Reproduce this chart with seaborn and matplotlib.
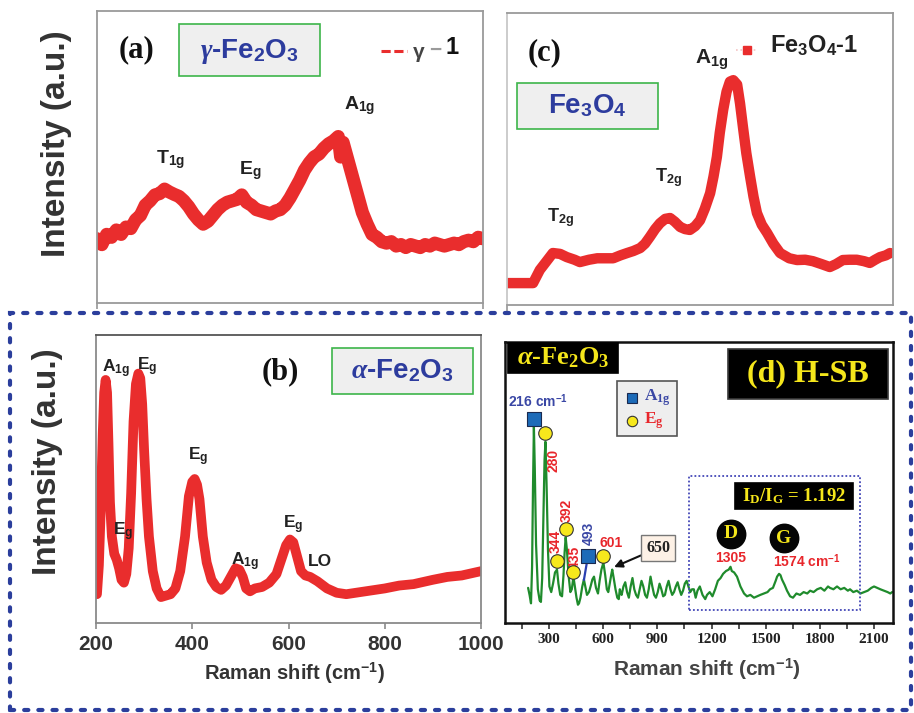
import matplotlib
matplotlib.use("Agg")
import matplotlib.pyplot as plt
from matplotlib.patches import Rectangle
from matplotlib.lines import Line2D
from matplotlib.ticker import FixedLocator, NullFormatter
import seaborn as sns

# ---------------- data ----------------
# (a) gamma-Fe2O3 Raman spectrum
gamma_shift = [200, 210, 220, 230, 240, 250, 260, 270, 280, 290, 300, 310, 320, 330, 340,
               350, 360, 370, 380, 390, 400, 410, 420, 430, 440, 450, 460, 470, 480, 490,
               500, 510, 520, 530, 540, 550, 560, 570, 580, 590, 600, 610, 620, 630, 640,
               650, 660, 670, 680, 690, 700, 705, 710, 720, 730, 740, 750, 760, 770, 780,
               790, 800, 810, 820, 830, 840, 850, 860, 870, 880, 890, 900, 910, 920, 930,
               940, 950, 960, 970, 980, 990, 1000]
gamma_int = [0.22, 0.20, 0.235, 0.225, 0.25, 0.235, 0.26, 0.255, 0.285, 0.30, 0.335, 0.35,
             0.37, 0.375, 0.39, 0.38, 0.372, 0.365, 0.35, 0.33, 0.305, 0.285, 0.27, 0.28,
             0.30, 0.32, 0.335, 0.345, 0.35, 0.355, 0.37, 0.345, 0.335, 0.32, 0.315, 0.31,
             0.305, 0.315, 0.32, 0.335, 0.36, 0.39, 0.42, 0.455, 0.48, 0.50, 0.51, 0.53,
             0.545, 0.555, 0.57, 0.50, 0.55, 0.49, 0.43, 0.37, 0.31, 0.27, 0.235, 0.225,
             0.21, 0.205, 0.21, 0.195, 0.20, 0.19, 0.20, 0.195, 0.19, 0.20, 0.195, 0.205,
             0.20, 0.195, 0.20, 0.205, 0.20, 0.21, 0.215, 0.21, 0.225, 0.22]

# (b) alpha-Fe2O3 Raman spectrum
hem_shift = [202, 206, 210, 214, 217, 220, 223, 226, 229, 233, 238, 243, 248, 253, 258,
             263, 268, 273, 278, 283, 288, 292, 296, 300, 305, 310, 318, 326, 335, 345,
             355, 365, 375, 385, 393, 400, 405, 410, 415, 422, 430, 440, 450, 460, 470,
             480, 490, 498, 505, 512, 520, 530, 545, 560, 575, 585, 595, 603, 610, 618,
             626, 635, 645, 660, 680, 700, 720, 740, 760, 780, 800, 830, 860, 900, 930,
             960, 1000]
hem_int = [0.10, 0.20, 0.40, 0.66, 0.80, 0.844, 0.80, 0.62, 0.42, 0.30, 0.24, 0.22, 0.19,
           0.15, 0.14, 0.17, 0.26, 0.45, 0.70, 0.83, 0.866, 0.85, 0.76, 0.60, 0.43, 0.30,
           0.18, 0.12, 0.09, 0.095, 0.10, 0.12, 0.18, 0.30, 0.44, 0.49, 0.50, 0.48, 0.43,
           0.30, 0.21, 0.15, 0.125, 0.115, 0.13, 0.16, 0.19, 0.185, 0.16, 0.12, 0.11,
           0.12, 0.125, 0.14, 0.17, 0.22, 0.27, 0.29, 0.28, 0.23, 0.18, 0.165, 0.16, 0.145,
           0.12, 0.105, 0.10, 0.105, 0.11, 0.115, 0.12, 0.13, 0.135, 0.15, 0.16, 0.165,
           0.18]
hem_ticks = [200, 400, 600, 800, 1000]

# (c) Fe3O4 Raman spectrum
mag_shift = [200, 225, 254, 268, 282, 295, 310, 324, 340, 351, 370, 387, 405, 420, 435,
             449, 462, 476, 486, 496, 507, 517, 528, 538, 548, 559, 569, 579, 590, 600,
             610, 621, 628, 635, 641, 648, 655, 662, 669, 677, 683, 689, 696, 704, 711,
             718, 728, 739, 752, 766, 785, 801, 818, 834, 852, 869, 882, 896, 910, 925,
             940, 952, 963, 973, 985, 994]
mag_int = [0.075, 0.075, 0.075, 0.12, 0.15, 0.178, 0.175, 0.164, 0.155, 0.147, 0.155, 0.16,
           0.16, 0.16, 0.17, 0.178, 0.185, 0.195, 0.21, 0.233, 0.26, 0.28, 0.295, 0.298,
           0.285, 0.267, 0.26, 0.257, 0.27, 0.29, 0.33, 0.383, 0.44, 0.507, 0.59, 0.668,
           0.73, 0.765, 0.77, 0.755, 0.69, 0.61, 0.52, 0.438, 0.37, 0.315, 0.275, 0.247,
           0.21, 0.178, 0.16, 0.154, 0.155, 0.15, 0.14, 0.13, 0.14, 0.154, 0.155, 0.155,
           0.15, 0.144, 0.155, 0.164, 0.17, 0.178]

# (d) H-SB Raman spectrum
hsb_shift = [184, 192, 200, 206, 211, 216, 221, 228, 238, 248, 255, 262, 269, 275, 280,
             286, 294, 302, 312, 322, 333, 344, 352, 362, 372, 380, 386, 392, 399, 408,
             418, 426, 435, 443, 452, 460, 466, 474, 484, 493, 501, 510, 521, 530, 540,
             549, 560, 571, 580, 590, 601, 611, 620, 628, 636, 644, 650, 658, 668, 678,
             686, 692, 697, 702, 712, 722, 732, 742, 752, 762, 772, 782, 792, 802, 812,
             822, 832, 842, 852, 862, 872, 882, 892, 902, 912, 922, 932, 942, 952, 962,
             972, 982, 992, 1002, 1012, 1022, 1032, 1042, 1052, 1062, 1072, 1082, 1092,
             1102, 1112, 1122, 1135, 1150, 1165, 1175, 1190, 1205, 1220, 1235, 1250, 1264,
             1280, 1295, 1305, 1312, 1325, 1341, 1360, 1380, 1396, 1415, 1435, 1452, 1470,
             1490, 1510, 1524, 1540, 1555, 1563, 1574, 1582, 1590, 1605, 1618, 1635, 1651,
             1670, 1690, 1710, 1730, 1746, 1765, 1785, 1805, 1825, 1845, 1856, 1875, 1895,
             1915, 1935, 1955, 1967, 1985, 2005, 2025, 2045, 2065, 2085, 2100, 2117, 2135,
             2155, 2175, 2190, 2200]
hsb_int = [0.125, 0.10, 0.07, 0.20, 0.48, 0.70, 0.55, 0.28, 0.12, 0.08, 0.075, 0.16, 0.38,
           0.58, 0.645, 0.50, 0.26, 0.13, 0.11, 0.14, 0.18, 0.19, 0.14, 0.10, 0.095, 0.17,
           0.25, 0.305, 0.26, 0.17, 0.11, 0.12, 0.165, 0.13, 0.09, 0.065, 0.07, 0.09, 0.13,
           0.155, 0.13, 0.10, 0.11, 0.13, 0.155, 0.165, 0.125, 0.105, 0.15, 0.19, 0.215,
           0.17, 0.12, 0.11, 0.14, 0.17, 0.19, 0.16, 0.12, 0.09, 0.085, 0.12, 0.105, 0.10,
           0.13, 0.145, 0.11, 0.09, 0.13, 0.16, 0.12, 0.10, 0.09, 0.12, 0.15, 0.13, 0.10,
           0.09, 0.12, 0.165, 0.13, 0.10, 0.09, 0.11, 0.14, 0.12, 0.095, 0.10, 0.13, 0.15,
           0.12, 0.10, 0.11, 0.13, 0.145, 0.12, 0.10, 0.115, 0.14, 0.15, 0.13, 0.11, 0.12,
           0.12, 0.09, 0.115, 0.13, 0.10, 0.085, 0.10, 0.11, 0.095, 0.12, 0.15, 0.16, 0.175,
           0.185, 0.19, 0.20, 0.185, 0.18, 0.165, 0.13, 0.105, 0.095, 0.10, 0.09, 0.095,
           0.10, 0.105, 0.11, 0.12, 0.125, 0.15, 0.165, 0.175, 0.17, 0.155, 0.135, 0.115,
           0.095, 0.09, 0.105, 0.10, 0.11, 0.105, 0.115, 0.11, 0.12, 0.125, 0.115, 0.13,
           0.125, 0.12, 0.13, 0.12, 0.125, 0.115, 0.12, 0.11, 0.115, 0.105, 0.11, 0.115,
           0.125, 0.13, 0.125, 0.12, 0.115, 0.11, 0.105, 0.11]
hsb_ticks = [300, 600, 900, 1200, 1500, 1800, 2100]
hsb_minor = [150, 450, 750, 1050, 1350, 1650, 1950]

# band assignments in (d)
a1g_peaks = [216, 493]
a1g_marker_x = [216, 516]
a1g_marker_y = [0.726, 0.240]
eg_peaks = [280, 344, 392, 435, 601]
eg_marker_y = [0.676, 0.220, 0.335, 0.180, 0.238]
extra_peak = 650
d_band, g_band = 1305, 1574
id_ig_ratio = 1.192

# ---------------- style ----------------
sns.set_theme(style="white")
plt.rcParams.update({
    "font.family": ["Liberation Sans", "DejaVu Sans"],
    "mathtext.fontset": "custom",
    "mathtext.rm": "Liberation Sans:bold",
    "mathtext.it": "Liberation Serif:italic:bold",
    "mathtext.bf": "Liberation Serif:bold",
    "mathtext.sf": "Liberation Sans:bold",
    "mathtext.fallback": "stix",
})

RED = "#E92D2D"
GREEN = "#1F8B2C"
BLUE_TXT = "#2D3C9E"
BOX_EDGE = "#3DB54A"
BOX_FACE = "#EFEFEF"
YELLOW = "#F5E61B"
LAB_RED = "#E8262B"
LAB_BLUE = "#3A47A5"
DARK = "#222222"

W, H = 914, 713
fig = plt.figure(figsize=(W / 100, H / 100), dpi=100)
fig.patch.set_facecolor("white")


def panel(l, t, r, b):
    return fig.add_axes([l / W, 1 - b / H, (r - l) / W, (b - t) / H])


def fig_box(l, t, r, b, fc, ec, lw=1.2, ls="-", z=5):
    fig.add_artist(Rectangle((l / W, 1 - b / H), (r - l) / W, (b - t) / H,
                             transform=fig.transFigure, fc=fc, ec=ec, lw=lw, ls=ls,
                             zorder=z))


def fig_text(x, y, s, z=6, **kw):
    kw.setdefault("ha", "center")
    kw.setdefault("va", "center")
    fig.text(x / W, 1 - y / H, s, zorder=z, **kw)


def style_gray(ax, color="#8A8A8A"):
    for sp in ax.spines.values():
        sp.set_color(color)
        sp.set_linewidth(1.3)
    ax.set_yticks([])


# ---------------- (a) gamma-Fe2O3 ----------------
ax_a = panel(97, 11, 483, 303)
sns.lineplot(x=gamma_shift, y=gamma_int, ax=ax_a, color=RED, linewidth=9.5,
             sort=False, estimator=None, solid_joinstyle="round", solid_capstyle="round")
ax_a.set_xlim(200, 1000)
ax_a.set_ylim(0, 1)
style_gray(ax_a, "#9A9A9A")
ax_a.set_xticks([200, 1000])
ax_a.set_xticklabels([])
ax_a.tick_params(axis="x", bottom=True, direction="out", length=4, color="#9A9A9A")
ax_a.set_ylabel("Intensity (a.u.)", fontsize=24, fontweight="bold", color="#333333",
                va="center")
ax_a.yaxis.set_label_coords((57 - 97) / 386, (303 - 144) / 292)
lab = dict(fontsize=14, fontweight="bold", color=DARK, ha="center", va="center")
ax_a.text(353, 0.49, r"T$_\mathrm{1g}$", **lab)
ax_a.text(517, 0.454, r"E$_\mathrm{g}$", **lab)
ax_a.text(745, 0.676, r"A$_\mathrm{1g}$", **lab)

fig_text(137, 50, "(a)", fontsize=22, fontweight="bold", family="Liberation Serif",
         color="#111111")
fig_box(179, 24, 320, 76, BOX_FACE, BOX_EDGE)
fig_text(249.5, 51, r"$\gamma$-Fe$_2$O$_3$", fontsize=20, fontweight="bold", color=BLUE_TXT)
fig.add_artist(Line2D([381 / W, 407 / W], [1 - 51 / H, 1 - 51 / H], transform=fig.transFigure,
                      color=RED, lw=2.2, ls=(0, (3, 1.2)), zorder=6))
fig_text(419, 52, "γ", fontsize=15, color="#444444", fontweight="bold")
fig_text(435, 50, "−", fontsize=15, color="#9A9A9A", fontweight="bold")
fig_text(452, 48, "1", fontsize=17, color="#111111", fontweight="bold")

# ---------------- (c) Fe3O4 ----------------
ax_c = panel(507, 13, 893, 305)
sns.lineplot(x=mag_shift, y=mag_int, ax=ax_c, color=RED, linewidth=7.5,
             sort=False, estimator=None, solid_joinstyle="round", solid_capstyle="round")
ax_c.set_xlim(200, 1000)
ax_c.set_ylim(0, 1)
style_gray(ax_c, "#9A9A9A")
ax_c.spines["left"].set_color("#C8C8C8")
ax_c.set_xticks([200])
ax_c.set_xticklabels([])
ax_c.tick_params(axis="x", bottom=True, direction="out", length=4, color="#9A9A9A")
ax_c.text(310, 0.298, r"T$_\mathrm{2g}$", fontsize=13, fontweight="bold", color=DARK,
          ha="center", va="center")
ax_c.text(534, 0.438, r"T$_\mathrm{2g}$", fontsize=13, fontweight="bold", color=DARK,
          ha="center", va="center")
ax_c.text(625, 0.839, r"A$_\mathrm{1g}$", fontsize=15, fontweight="bold", color=DARK,
          ha="center", va="center")

fig_text(545, 53, "(c)", fontsize=22, fontweight="bold", family="Liberation Serif",
         color="#111111")
fig_box(517, 83, 658, 129, BOX_FACE, BOX_EDGE)
fig_text(587.5, 106, r"Fe$_3$O$_4$", fontsize=20, fontweight="bold", color=BLUE_TXT)
fig.add_artist(Line2D([736 / W, 758 / W], [1 - 50 / H, 1 - 50 / H], transform=fig.transFigure,
                      color="#F4C4C4", lw=1.2, ls=":", zorder=6))
fig.add_artist(Line2D([747 / W], [1 - 50 / H], transform=fig.transFigure, color=RED,
                      marker="s", ms=6, ls="none", zorder=7))
fig_text(770, 46, r"Fe$_3$O$_4$-1", fontsize=17, fontweight="bold", color=DARK, ha="left")

# ---------------- (b) alpha-Fe2O3 ----------------
ax_b = panel(96, 335, 481, 623)
sns.lineplot(x=hem_shift, y=hem_int, ax=ax_b, color=RED, linewidth=7,
             sort=False, estimator=None, solid_joinstyle="round", solid_capstyle="round")
ax_b.set_xlim(200, 1000)
ax_b.set_ylim(0, 1)
style_gray(ax_b, "#8A8A8A")
ax_b.spines["top"].set_color("#555555")
ax_b.set_xticks(hem_ticks)
ax_b.set_xticklabels([str(t) for t in hem_ticks], fontsize=15, fontweight="bold",
                     color="#333333")
ax_b.tick_params(axis="x", bottom=True, direction="out", length=4, width=1.2,
                 color="#8A8A8A", pad=5)
ax_b.set_xlabel(r"Raman shift (cm$^{-1}$)", fontsize=14.5, fontweight="bold",
                color="#333333", va="center")
ax_b.xaxis.set_label_coords((295 - 96) / 385, (623 - 673) / 288)
ax_b.set_ylabel("Intensity (a.u.)", fontsize=24, fontweight="bold", color="#333333",
                va="center")
ax_b.yaxis.set_label_coords((48 - 96) / 385, (623 - 462) / 288)
labb = dict(fontsize=12.5, fontweight="bold", color=DARK, ha="center", va="center")
ax_b.text(242, 0.882, r"A$_\mathrm{1g}$", **labb)
ax_b.text(306, 0.889, r"E$_\mathrm{g}$", **labb)
ax_b.text(256, 0.316, r"E$_\mathrm{g}$", **labb)
ax_b.text(412, 0.576, r"E$_\mathrm{g}$", **labb)
ax_b.text(510, 0.212, r"A$_\mathrm{1g}$", **labb)
ax_b.text(609, 0.340, r"E$_\mathrm{g}$", **labb)
ax_b.text(665, 0.212, "LO", **labb)

fig_text(280, 372, "(b)", fontsize=22, fontweight="bold", family="Liberation Serif",
         color="#111111")
fig_box(332, 348, 473, 394, BOX_FACE, BOX_EDGE)
fig_text(402.5, 371, r"$\alpha$-Fe$_2$O$_3$", fontsize=20, fontweight="bold", color=BLUE_TXT)

# ---------------- (d) H-SB ----------------
ax_d = panel(505, 342, 893, 623)
ax_d.set_facecolor("white")
sns.lineplot(x=hsb_shift, y=hsb_int, ax=ax_d, color=GREEN, linewidth=1.6,
             sort=False, estimator=None)
ax_d.set_xlim(56, 2205)
ax_d.set_ylim(0, 1)
for sp in ax_d.spines.values():
    sp.set_color("#111111")
    sp.set_linewidth(1.8)
ax_d.set_yticks([])
ax_d.xaxis.set_major_locator(FixedLocator(hsb_ticks))
ax_d.xaxis.set_minor_locator(FixedLocator(hsb_minor))
ax_d.xaxis.set_minor_formatter(NullFormatter())
ax_d.set_xticklabels([str(t) for t in hsb_ticks], fontsize=11, fontweight="bold",
                     family="Liberation Serif", color=DARK)
ax_d.tick_params(axis="x", which="both", bottom=True, direction="out", length=4,
                 width=1.2, color="#333333", pad=3)
ax_d.set_xlabel(r"Raman shift (cm$^{-1}$)", fontsize=15, fontweight="bold",
                color="#444444", va="center")
ax_d.xaxis.set_label_coords((707 - 505) / 388, (623 - 669) / 281)

# connector from the 493 band to its marker
ax_d.plot([a1g_peaks[1], a1g_marker_x[1]], [0.153, a1g_marker_y[1]], color="#2A3FB0",
          lw=1.6, zorder=3)
ax_d.scatter(a1g_marker_x, a1g_marker_y, marker="s", s=95, color="#1D6BB8",
             edgecolor="#1A2A50", linewidth=0.8, zorder=4)
ax_d.scatter(eg_peaks, eg_marker_y, marker="o", s=95, color="#F7E81C",
             edgecolor="#333333", linewidth=0.8, zorder=4)

ax_d.text(239, 0.79, r"216 cm$^{-1}$", fontsize=10, fontweight="bold", color=LAB_BLUE,
          ha="center", va="center")
rot = dict(fontsize=10, fontweight="bold", rotation=90, ha="center", va="center")
ax_d.text(322, 0.58, str(eg_peaks[0]), color=LAB_RED, **rot)
ax_d.text(339, 0.29, str(eg_peaks[1]), color=LAB_RED, **rot)
ax_d.text(397, 0.40, str(eg_peaks[2]), color=LAB_RED, **rot)
ax_d.text(444, 0.235, str(eg_peaks[3]), color=LAB_RED, **rot)
ax_d.text(522, 0.32, str(a1g_peaks[1]), color=LAB_BLUE, **rot)
ax_d.text(643, 0.285, str(eg_peaks[4]), fontsize=10, fontweight="bold", color=LAB_RED,
          ha="center", va="center")

# 650 callout
ax_d.annotate(str(extra_peak), xy=(660, 0.199), xytext=(904, 0.267),
              fontsize=11.5, family="Liberation Serif", fontweight="bold", color="#222222",
              ha="center", va="center",
              bbox=dict(boxstyle="square,pad=0.3", fc="#FDF1E6", ec="#777777", lw=1.0),
              arrowprops=dict(arrowstyle="-|>", color="#111111", lw=1.5,
                              mutation_scale=12, shrinkA=0, shrinkB=0))

# D and G bands
ax_d.add_patch(Rectangle((1075, 0.046), 947, 0.477, fill=False, ec="#4448B8", lw=1.3,
                         ls=(0, (1, 1.2)), zorder=2))
ax_d.scatter([d_band, 1601], [0.317, 0.302], s=420, color="#050505", zorder=5)
ax_d.text(d_band, 0.317, "D", fontsize=14, fontweight="bold", family="Liberation Serif",
          color=YELLOW, ha="center", va="center", zorder=6)
ax_d.text(1601, 0.302, "G", fontsize=14, fontweight="bold", family="Liberation Serif",
          color=YELLOW, ha="center", va="center", zorder=6)
ax_d.text(d_band, 0.231, str(d_band), fontsize=10, fontweight="bold", color=LAB_RED,
          ha="center", va="center")
ax_d.text(1729, 0.221, f"{g_band} cm$^{{-1}}$", fontsize=10, fontweight="bold",
          color=LAB_RED, ha="center", va="center")

# boxed titles inside (d)
fig_box(508, 343, 618, 373, "#000000", "#000000", z=7)
fig_text(563, 358, r"$\alpha$-Fe$_\mathbf{2}$O$_\mathbf{3}$", z=8, fontsize=19,
         fontweight="bold", family="Liberation Serif", color=YELLOW)
fig_box(728, 349, 888, 399, "#000000", "#3A3A3A", z=7)
fig_text(808, 374, "(d) H-SB", z=8, fontsize=23, fontweight="bold",
         family="Liberation Serif", color=YELLOW)
fig_box(735, 483, 853, 509, "#000000", "#000000", z=7)
fig_text(794, 496, r"I$_\mathbf{D}$/I$_\mathbf{G}$ = " + f"{id_ig_ratio}", z=8,
         fontsize=13.5, fontweight="bold", family="Liberation Serif", color=YELLOW)

# marker key
fig_box(617, 381, 677, 436, "#EEEEEE", "#555555", lw=1.2, z=7)
fig.add_artist(Line2D([632 / W], [1 - 398 / H], transform=fig.transFigure, marker="s",
                      ms=7.5, color="#1D6BB8", mec="#1A2A50", mew=0.8, ls="none", zorder=8))
fig.add_artist(Line2D([632 / W], [1 - 421 / H], transform=fig.transFigure, marker="o",
                      ms=7.5, color="#F7E81C", mec="#333333", mew=0.8, ls="none", zorder=8))
fig_text(644, 398, r"A$_\mathbf{1g}$", z=8, fontsize=12.5, fontweight="bold",
         family="Liberation Serif", color=LAB_BLUE, ha="left")
fig_text(644, 421, r"E$_\mathbf{g}$", z=8, fontsize=12.5, fontweight="bold",
         family="Liberation Serif", color=LAB_RED, ha="left")

# dashed frame around the hematite panels
frame = Rectangle((10 / W, 1 - 710 / H), 901 / W, 397 / H, transform=fig.transFigure,
                  fill=False, ec="#2B3E9C", lw=3, ls=(0, (1.0, 2.4)), capstyle="round",
                  zorder=10)
fig.add_artist(frame)

fig.savefig("out.png", dpi=100)
